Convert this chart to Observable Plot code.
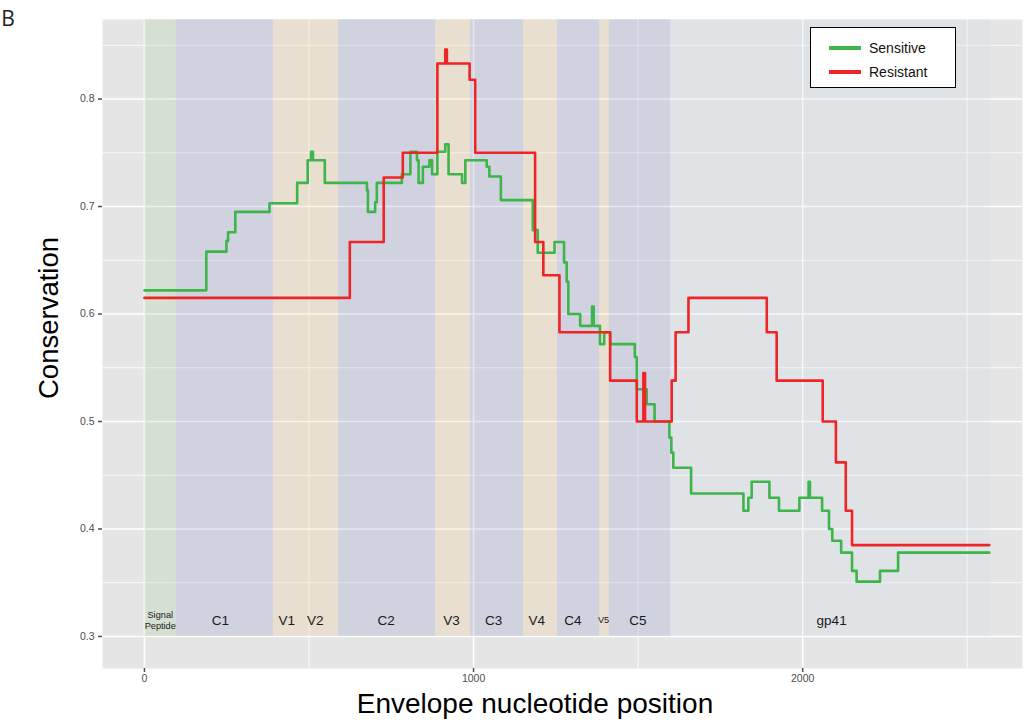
<!DOCTYPE html>
<html>
<head>
<meta charset="utf-8">
<script src="https://cdn.jsdelivr.net/npm/d3@7"></script>
<script src="https://cdn.jsdelivr.net/npm/@observablehq/plot@0.6"></script>
<style>
  html, body { margin: 0; padding: 0; background: #ffffff; }
  #wrap { position: relative; width: 1024px; height: 722px; font-family: "Liberation Sans", Arial, sans-serif; }
  #wrap svg { position: absolute; left: 0; top: 0; }
  #legend { position: absolute; left: 810px; top: 27px; width: 144px; height: 59px; border: 1px solid #000; background: #fff; }
  .lg { position: absolute; left: 18px; width: 32px; height: 4px; }
  .lt { position: absolute; left: 58px; font-size: 14px; color: #111; line-height: 16px; }
</style>
</head>
<body>
<div id="wrap"></div>
<script>
// ---- data ----
const seriesNames = ["Sensitive", "Resistant"];

const sensPos = [0, 188, 249, 254, 276, 380, 464, 496, 506, 512, 548, 676, 679, 701, 706, 782, 808, 828, 833, 846, 866, 874, 890, 914, 924, 965, 975, 1040, 1048, 1083, 1180, 1195, 1246, 1275, 1283, 1288, 1324, 1360, 1365, 1384, 1397, 1415, 1490, 1496, 1526, 1550, 1595, 1601, 1607, 1661, 1820, 1835, 1845, 1899, 1928, 1990, 2018, 2022, 2059, 2080, 2090, 2117, 2150, 2164, 2235, 2290, 2567];
const sensVal = [0.622, 0.658, 0.668, 0.676, 0.695, 0.703, 0.722, 0.743, 0.751, 0.743, 0.722, 0.715, 0.695, 0.704, 0.722, 0.730, 0.751, 0.743, 0.722, 0.737, 0.743, 0.730, 0.751, 0.758, 0.730, 0.722, 0.743, 0.737, 0.728, 0.706, 0.678, 0.657, 0.667, 0.648, 0.630, 0.600, 0.589, 0.607, 0.589, 0.572, 0.583, 0.572, 0.560, 0.530, 0.516, 0.500, 0.485, 0.471, 0.457, 0.433, 0.417, 0.429, 0.444, 0.429, 0.417, 0.429, 0.444, 0.429, 0.417, 0.400, 0.389, 0.378, 0.361, 0.351, 0.361, 0.378, 0.378];

const resPos = [0, 624, 727, 785, 890, 914, 919, 988, 1005, 1187, 1212, 1261, 1415, 1496, 1516, 1521, 1602, 1614, 1653, 1891, 1921, 2061, 2101, 2131, 2150, 2567];
const resVal = [0.615, 0.667, 0.727, 0.750, 0.833, 0.846, 0.833, 0.818, 0.750, 0.667, 0.636, 0.583, 0.538, 0.500, 0.545, 0.500, 0.538, 0.583, 0.615, 0.583, 0.538, 0.500, 0.462, 0.417, 0.385, 0.385];

const regionNames = ["Signal Peptide", "C1", "V1", "V2", "C2", "V3", "C3", "V4", "C4", "V5", "C5", "gp41"];
const regionStart = [0, 97, 392, 468, 590, 885, 991, 1152, 1255, 1383, 1413, 1599];
const regionEnd   = [97, 392, 468, 590, 885, 991, 1152, 1255, 1383, 1413, 1599, 2571];
const regionKind  = ["signal", "C", "V", "V", "C", "V", "C", "V", "C", "V", "C", "gp41"];

const labelText = ["Signal\nPeptide", "C1", "V1", "V2", "C2", "V3", "C3", "V4", "C4", "V5", "C5", "gp41"];
const labelPos  = [48, 231, 432, 519, 734, 933, 1061, 1192, 1302, 1395, 1499, 2088];

const xTicks = [0, 1000, 2000];
const xMinor = [500, 1500, 2500];
const yTicks = [0.3, 0.4, 0.5, 0.6, 0.7, 0.8];
const yMinor = [0.35, 0.45, 0.55, 0.65, 0.75, 0.85];

// ---- build tables ----
const sens = sensPos.map((p, i) => ({pos: p, val: sensVal[i]}));
const res = resPos.map((p, i) => ({pos: p, val: resVal[i]}));
const regions = regionNames.map((n, i) => ({name: n, start: regionStart[i], end: regionEnd[i], kind: regionKind[i]}));
const labels = labelText.map((t, i) => ({text: t, pos: labelPos[i]}));

const xDomain = [-127.5, 2668];
const yDomain = [0.2702, 0.874];
const regionFloor = yTicks[0];
const labelY = 0.3152;
const smallLabels = new Set(["Signal\nPeptide", "V5"]);

const kindFill = {signal: "#98cc8c", C: "#7c8bc7", V: "#f4c67c", gp41: "#c7dbea"};

const regionMarks = Object.keys(kindFill).map(k =>
  Plot.rect(regions.filter(r => r.kind === k), {
    x1: "start", x2: "end", y1: () => regionFloor, y2: () => yDomain[1],
    fill: kindFill[k], fillOpacity: 0.2
  })
);

const chart = Plot.plot({
  width: 1024,
  height: 722,
  marginLeft: 102,
  marginRight: 2,
  marginTop: 19,
  marginBottom: 54,
  x: {domain: xDomain},
  y: {domain: yDomain},
  style: {fontFamily: "'Liberation Sans', Arial, sans-serif", background: "transparent", overflow: "visible"},
  marks: [
    Plot.frame({fill: "#e5e5e5", stroke: "none"}),
    Plot.ruleY(yMinor, {stroke: "#ffffff", strokeWidth: 0.8}),
    Plot.ruleX(xMinor, {stroke: "#ffffff", strokeWidth: 0.8}),
    Plot.ruleY(yTicks, {stroke: "#ffffff", strokeWidth: 1.6}),
    Plot.ruleX(xTicks, {stroke: "#ffffff", strokeWidth: 1.6}),
    ...regionMarks,
    Plot.line(sens, {x: "pos", y: "val", curve: "step-after", stroke: "#3db54a", strokeWidth: 2.6}),
    Plot.line(res, {x: "pos", y: "val", curve: "step-after", stroke: "#ee2427", strokeWidth: 2.6}),
    Plot.text(labels, {
      x: "pos", y: () => labelY, text: "text",
      fontSize: d => smallLabels.has(d.text) ? 9.2 : 13.5,
      lineHeight: 1.12,
      fill: "#1a1a1a"
    }),
    Plot.axisX(xTicks, {tickSize: 4, tickPadding: 2, fontSize: 10.5, color: "#4d4d4d", strokeWidth: 1.5, tickFormat: d3.format("d"), label: null}),
    Plot.axisY(yTicks, {tickSize: 4, tickPadding: 4, fontSize: 10.5, color: "#4d4d4d", strokeWidth: 1.5, tickFormat: d3.format(".1f"), label: null})
  ]
});

const wrap = document.getElementById("wrap");
wrap.appendChild(chart);

const svg = d3.select(chart);
svg.append("text")
  .attr("x", 535).attr("y", 713)
  .attr("text-anchor", "middle")
  .attr("font-size", 28)
  .attr("font-family", "'Liberation Sans', Arial, sans-serif")
  .attr("fill", "#000")
  .text("Envelope nucleotide position");
svg.append("text")
  .attr("transform", "translate(58,318) rotate(-90)")
  .attr("text-anchor", "middle")
  .attr("font-size", 27.5)
  .attr("font-family", "'Liberation Sans', Arial, sans-serif")
  .attr("fill", "#000")
  .text("Conservation");
svg.append("text")
  .attr("x", 8).attr("y", 26)
  .attr("font-size", 21)
  .attr("font-family", "'Open Sans', 'Noto Sans', sans-serif")
  .attr("fill", "#222")
  .text("B");

// legend
const legend = document.createElement("div");
legend.id = "legend";
const legendColors = ["#3db54a", "#ee2427"];
seriesNames.forEach((name, i) => {
  const sw = document.createElement("div");
  sw.className = "lg";
  sw.style.top = (18 + i * 24) + "px";
  sw.style.background = legendColors[i];
  legend.appendChild(sw);
  const t = document.createElement("div");
  t.className = "lt";
  t.style.top = (12 + i * 24) + "px";
  t.textContent = name;
  legend.appendChild(t);
});
wrap.appendChild(legend);
</script>
</body>
</html>
